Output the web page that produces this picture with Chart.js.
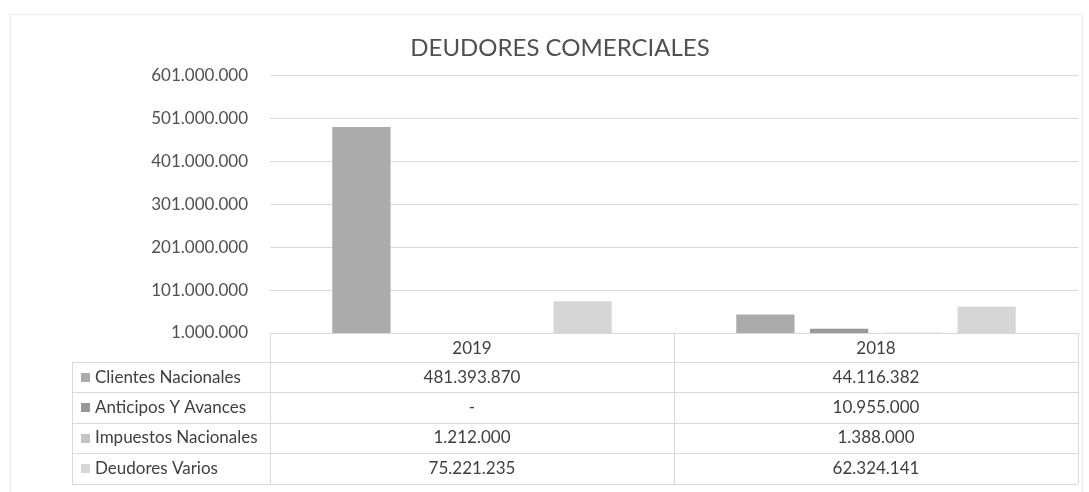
<!DOCTYPE html>
<html>
<head>
<meta charset="utf-8">
<script src="https://cdn.jsdelivr.net/npm/chart.js@4"></script>
<style>
  html, body { margin: 0; padding: 0; background: #ffffff; }
  #wrap { width: 1089px; height: 492px; position: relative; }
</style>
</head>
<body>
<div id="wrap"><canvas id="c" width="1089" height="492"></canvas></div>
<script>
// ---- data ----
const categories = ['2019', '2018'];
const seriesNames = ['Clientes Nacionales', 'Anticipos Y Avances', 'Impuestos Nacionales', 'Deudores Varios'];
const clientesNacionales = [481393870, 44116382];
const anticiposYAvances = [0, 10955000];
const impuestosNacionales = [1212000, 1388000];
const deudoresVarios = [75221235, 62324141];
const yTickMin = 1000000;
const yTickMax = 601000000;
const yTickStep = 100000000;
const chartTitle = 'DEUDORES COMERCIALES';

// ---- styles ----
const seriesColors = ['#ababab', '#999999', '#c4c4c4', '#d6d6d6'];
const FONT = 'Lato, "Open Sans", sans-serif';
const TEXT = '#404040';
const GRID = '#d9d9d9';

function fmt(v) {
  if (!v) return '-';
  return String(Math.round(v)).replace(/\B(?=(\d{3})+(?!\d))/g, '.');
}

const seriesValues = [clientesNacionales, anticiposYAvances, impuestosNacionales, deudoresVarios];

const framePlugin = {
  id: 'frame',
  beforeDraw(chart) {
    const ctx = chart.ctx;
    ctx.save();
    ctx.strokeStyle = '#ececec';
    ctx.lineWidth = 1;
    ctx.strokeRect(10.5, 14.5, 1072, 480);
    ctx.restore();
  }
};

const tablePlugin = {
  id: 'dataTable',
  afterDraw(chart) {
    const ctx = chart.ctx;
    const ca = chart.chartArea;
    const x = chart.scales.x;
    const top = ca.bottom;
    const headerH = 29;
    const rowH = 30.4;
    const left = 72;
    const bottom = top + headerH + rowH * seriesNames.length;
    const line = (x1, y1, x2, y2) => { ctx.beginPath(); ctx.moveTo(x1, y1); ctx.lineTo(x2, y2); ctx.stroke(); };
    ctx.save();
    ctx.strokeStyle = GRID;
    ctx.lineWidth = 1;
    for (let i = 0; i <= seriesNames.length; i++) {
      const y = Math.round(top + headerH + i * rowH) + 0.5;
      line(left, y, ca.right, y);
    }
    line(left + 0.5, top + headerH, left + 0.5, bottom);
    const bounds = [ca.left];
    for (let i = 0; i < categories.length - 1; i++) {
      bounds.push((x.getPixelForValue(i) + x.getPixelForValue(i + 1)) / 2);
    }
    bounds.push(ca.right);
    bounds.forEach(b => line(Math.round(b) + 0.5, top, Math.round(b) + 0.5, bottom));

    ctx.font = '17px ' + FONT;
    ctx.textBaseline = 'middle';
    seriesNames.forEach((name, i) => {
      const cy = top + headerH + (i + 0.5) * rowH;
      ctx.fillStyle = seriesColors[i];
      ctx.fillRect(81, Math.round(cy - 4.5), 9, 9);
      ctx.fillStyle = TEXT;
      ctx.textAlign = 'left';
      ctx.fillText(name, 95, cy);
      ctx.textAlign = 'center';
      seriesValues[i].forEach((v, j) => {
        ctx.fillText(fmt(v), x.getPixelForValue(j), cy);
      });
    });
    ctx.restore();
  }
};

new Chart(document.getElementById('c'), {
  type: 'bar',
  data: {
    labels: categories,
    datasets: seriesNames.map((name, i) => ({
      label: name,
      data: seriesValues[i],
      backgroundColor: seriesColors[i],
      borderWidth: 0,
      categoryPercentage: 0.73,
      barPercentage: 0.79
    }))
  },
  options: {
    responsive: false,
    animation: false,
    layout: { padding: { left: 42, right: 11, top: 0, bottom: 0 } },
    plugins: {
      legend: { display: false },
      tooltip: { enabled: false },
      title: {
        display: true,
        text: chartTitle,
        color: '#505050',
        font: { family: FONT, size: 24, weight: 'normal' },
        padding: { top: 34, bottom: 13 }
      }
    },
    scales: {
      x: {
        grid: { display: false, drawTicks: false },
        border: { display: true, color: GRID },
        ticks: { color: TEXT, font: { family: FONT, size: 17 }, padding: 5 },
        afterFit(scale) { scale.height = 159; }
      },
      y: {
        min: yTickMin,
        max: yTickMax,
        grid: { color: GRID, drawTicks: false },
        border: { display: false },
        ticks: {
          stepSize: yTickStep,
          color: '#505050',
          font: { family: FONT, size: 17 },
          padding: 22,
          callback: (v) => fmt(v)
        },
        afterFit(scale) { scale.width = 228; }
      }
    }
  },
  plugins: [framePlugin, tablePlugin]
});
</script>
</body>
</html>
